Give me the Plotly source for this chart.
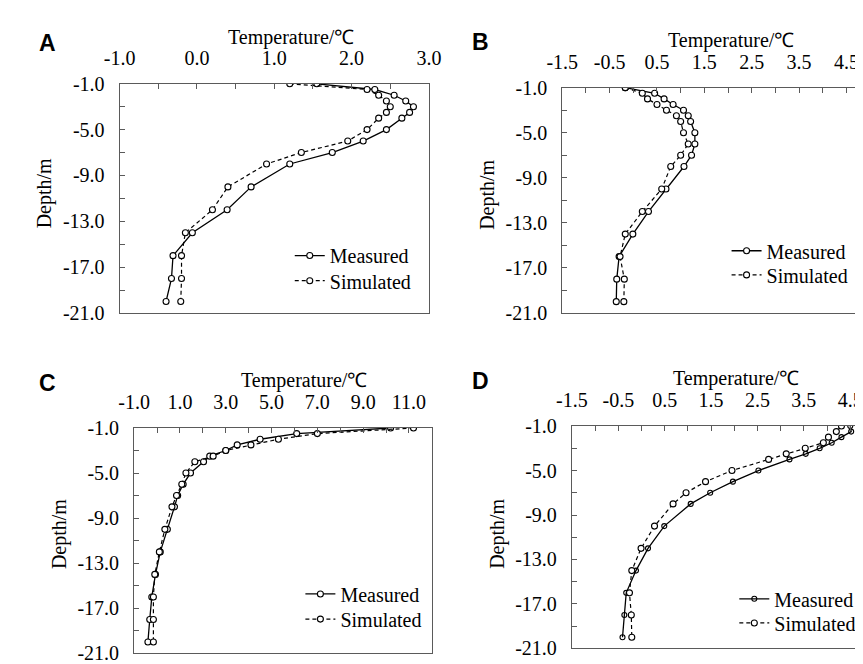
import plotly.graph_objects as go

# ---------------- data ----------------
depth_A = [-1, -1.5, -2, -2.5, -3, -3.5, -4, -5, -6, -7, -8, -10, -12, -14, -16, -18, -20]
meas_A = [1.55, 2.3, 2.55, 2.7, 2.8, 2.75, 2.65, 2.45, 2.15, 1.75, 1.2, 0.7, 0.39, -0.06, -0.31, -0.33, -0.40]
sim_A = [1.2, 2.2, 2.35, 2.45, 2.5, 2.45, 2.35, 2.2, 1.95, 1.35, 0.9, 0.4, 0.2, -0.15, -0.2, -0.2, -0.21]

depth_B = [-1, -1.5, -2, -2.5, -3, -3.5, -4, -5, -6, -7, -8, -10, -12, -14, -16, -18, -20]
meas_B = [-0.17, 0.45, 0.65, 0.84, 1.06, 1.16, 1.21, 1.30, 1.30, 1.23, 1.07, 0.69, 0.32, -0.01, -0.30, -0.35, -0.36]
sim_B = [-0.17, 0.19, 0.30, 0.50, 0.70, 0.91, 1.0, 1.06, 1.16, 1.0, 0.79, 0.60, 0.19, -0.17, -0.28, -0.19, -0.20]

depth_C = [-1, -1.5, -2, -2.5, -3, -3.5, -4, -5, -6, -7, -8, -10, -12, -14, -16, -18, -20]
meas_C = [10.2, 6.1, 4.5, 3.5, 3.0, 2.3, 2.03, 1.46, 1.14, 0.9, 0.76, 0.45, 0.14, -0.07, -0.23, -0.32, -0.40]
sim_C = [11.2, 7.0, 5.3, 4.1, 3.0, 2.45, 1.65, 1.26, 1.08, 0.85, 0.65, 0.34, 0.10, -0.10, -0.16, -0.16, -0.16]

depth_D = [-1, -1.5, -2, -2.5, -3, -3.5, -4, -5, -6, -7, -8, -10, -12, -14, -16, -18, -20]
meas_D = [4.5, 4.52, 4.31, 4.1, 3.84, 3.54, 3.19, 2.52, 1.97, 1.48, 1.06, 0.49, 0.14, -0.12, -0.33, -0.37, -0.41]
sim_D = [4.31, 4.2, 4.03, 3.92, 3.53, 3.12, 2.74, 1.95, 1.38, 0.96, 0.68, 0.28, -0.01, -0.21, -0.26, -0.22, -0.21]

xt_A = [-1.0, 0.0, 1.0, 2.0, 3.0]
xt_B = [-1.5, -0.5, 0.5, 1.5, 2.5, 3.5, 4.5]
xt_C = [-1.0, 1.0, 3.0, 5.0, 7.0, 9.0, 11.0]
xt_D = [-1.5, -0.5, 0.5, 1.5, 2.5, 3.5, 4.5]
yt = [-1.0, -5.0, -9.0, -13.0, -17.0, -21.0]

series_names = ["Measured", "Simulated"]
x_title = "Temperature/℃"
y_title = "Depth/m"
panel_letters = ["A", "B", "C", "D"]

# ---------------- figure ----------------
W, H = 863, 664
FONT = "Times New Roman, Liberation Serif, serif"
FS = 20
AXC = "#5a5a5a"


def px_x(p):
    return p / W


def px_y(p):
    return 1 - p / H


fig = go.Figure()

panels = [
    # (depth, meas, sim, xticks, xrange, minor, xdom(px), ydom(px), mirror_y, meas marker fill)
    (depth_A, meas_A, sim_A, xt_A, [-1.0, 3.0], 0.5, (99, 419), (67, 304), True, "white"),
    (depth_B, meas_B, sim_B, xt_B, [-1.5, 4.745], 0.5, (557, 863), (71, 304), False, "white"),
    (depth_C, meas_C, sim_C, xt_C, [-1.0, 12.0], 1.0, (114, 422), (423, 656), True, "white"),
    (depth_D, meas_D, sim_D, xt_D, [-1.5, 4.667], 0.5, (567, 863), (421, 651), False, "rgba(255,255,255,0)"),
]

# legend: (x of circle centre, y of row centres) in pixels
legend_rows = [(295, (244, 270)), (747, (239, 264)), (306, (594, 620)), (755, (599, 624))]
ROW_OFF = FS * 1.3 / 2 + 1.5 + 5  # centre of first item below legend top


def fmt(v):
    return f"{v:.1f}"


for i, (d, m, s, xt, xr, mn, xd, yd, mir, mfill) in enumerate(panels):
    k = "" if i == 0 else str(i + 1)
    cx, rows = legend_rows[i]
    lg1 = "legend" if i == 0 else f"legend{2 * i + 1}"
    lg2 = f"legend{2 * i + 2}"
    fig.add_trace(go.Scatter(
        x=m, y=d, mode="lines+markers", name=series_names[0],
        xaxis="x" + k, yaxis="y" + k, legend=lg1,
        line=dict(color="black", width=1.3, dash="solid"),
        marker=dict(symbol="circle", size=6 if i < 3 else 5, color=mfill,
                    line=dict(color="black", width=1.1)),
    ))
    fig.add_trace(go.Scatter(
        x=s, y=d, mode="lines+markers", name=series_names[1],
        xaxis="x" + k, yaxis="y" + k, legend=lg2,
        line=dict(color="black", width=1.2, dash="4px,3px"),
        marker=dict(symbol="circle", size=6, color="white", line=dict(color="black", width=1.1)),
    ))
    axcommon = dict(showgrid=False, zeroline=False, showline=True, linecolor=AXC, linewidth=1.2,
                    ticks="inside", ticklen=5, tickcolor=AXC,
                    tickfont=dict(family=FONT, size=FS, color="black"))
    fig.layout["xaxis" + k] = dict(
        axcommon, domain=[px_x(xd[0]), px_x(xd[1])], range=xr, side="top", anchor="y" + k,
        tickmode="array", tickvals=xt, ticktext=[fmt(v) for v in xt], mirror=True,
        ticklabelstandoff=10,
        minor=dict(ticks="inside", dtick=mn, tick0=xr[0], ticklen=5, tickcolor=AXC, showgrid=False),
    )
    fig.layout["yaxis" + k] = dict(
        axcommon, domain=[px_y(yd[1]), px_y(yd[0])], range=[-21, -1], anchor="x" + k,
        tickmode="array", tickvals=yt, ticktext=[fmt(v) for v in yt], mirror=mir,
        ticklabelstandoff=10,
        minor=dict(ticks="inside", dtick=2, tick0=-1, ticklen=5, tickcolor=AXC, showgrid=False),
    )
    for lg, ry in ((lg1, rows[0]), (lg2, rows[1])):
        fig.layout[lg] = dict(x=px_x(cx - 20), y=px_y(ry - ROW_OFF), xanchor="left", yanchor="top",
                              xref="paper", yref="paper", bgcolor="rgba(0,0,0,0)", borderwidth=0,
                              font=dict(family=FONT, size=FS, color="black"))

# axis titles and panel letters
title_pos = [(276, 19), (732, 22), (290, 374), (737, 372)]
ytitle_pos = [(21, 180), (480, 182), (37, 533), (490, 533)]
letter_pos = [(13, 25), (461, 24), (13, 376), (461, 374)]
for i in range(4):
    tx, ty = title_pos[i]
    fig.add_annotation(text=x_title, x=px_x(tx), y=px_y(ty), xref="paper", yref="paper",
                       showarrow=False, xanchor="center", yanchor="middle",
                       font=dict(family=FONT, size=FS, color="black"))
    yx, yy = ytitle_pos[i]
    fig.add_annotation(text=y_title, x=px_x(yx), y=px_y(yy), xref="paper", yref="paper",
                       showarrow=False, xanchor="center", yanchor="middle", textangle=-90,
                       font=dict(family=FONT, size=FS, color="black"))
    lx, ly = letter_pos[i]
    fig.add_annotation(text="<b>" + panel_letters[i] + "</b>", x=px_x(lx), y=px_y(ly),
                       xref="paper", yref="paper", showarrow=False, xanchor="left", yanchor="middle",
                       font=dict(family="Arial, Liberation Sans, sans-serif", size=23, color="black"))

fig.update_layout(width=W, height=H, margin=dict(l=0, r=0, t=0, b=0),
                  paper_bgcolor="white", plot_bgcolor="white", showlegend=True)

fig.write_html("out.html")
